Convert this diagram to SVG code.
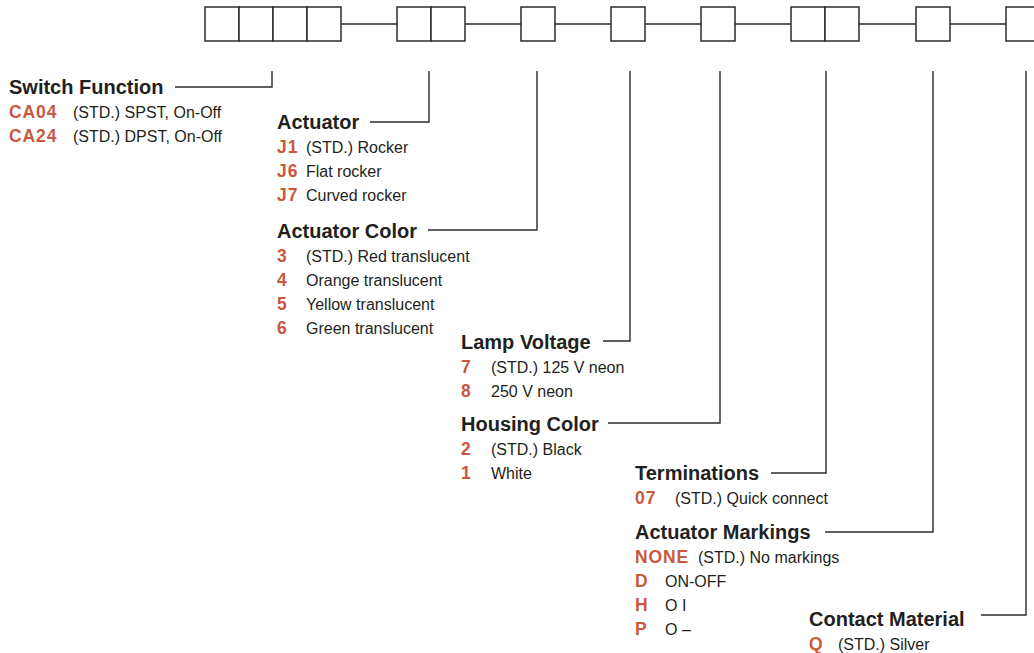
<svg xmlns="http://www.w3.org/2000/svg" width="1034" height="653" viewBox="0 0 1034 653">
<style>
.box{fill:#fff;stroke:#2b2b2b;stroke-width:1.5}
.ln{fill:none;stroke:#2b2b2b;stroke-width:1.4}
.h{font-family:"Liberation Sans",Arial,sans-serif;font-weight:bold;font-size:20px;fill:#231f20}
.c{font-family:"Liberation Sans",Arial,sans-serif;font-weight:bold;font-size:17.5px;letter-spacing:0.9px;fill:#c9583f}
.t{font-family:"Liberation Sans",Arial,sans-serif;font-size:16px;fill:#231f20}
</style>
<rect width="1034" height="653" fill="#fff"/>
<g id="connectors">
<path class="ln" d="M341 24H397M465 24H521M555 24H611M645 24H701M735 24H791M859 24H916M950 24H1006"/>
<path class="ln" d="M272 71V87H175"/>
<path class="ln" d="M429 71V122H370"/>
<path class="ln" d="M537 71V230H428"/>
<path class="ln" d="M630 71V341H603"/>
<path class="ln" d="M720 71V423H608"/>
<path class="ln" d="M826 71V473H771"/>
<path class="ln" d="M933 71V532H825"/>
<path class="ln" d="M1026 71V615H981"/>
</g>
<g id="code-boxes">
<rect class="box" x="205" y="7" width="34" height="34"/>
<rect class="box" x="239" y="7" width="34" height="34"/>
<rect class="box" x="273" y="7" width="34" height="34"/>
<rect class="box" x="307" y="7" width="34" height="34"/>
<rect class="box" x="397" y="7" width="34" height="34"/>
<rect class="box" x="431" y="7" width="34" height="34"/>
<rect class="box" x="521" y="7" width="34" height="34"/>
<rect class="box" x="611" y="7" width="34" height="34"/>
<rect class="box" x="701" y="7" width="34" height="34"/>
<rect class="box" x="791" y="7" width="34" height="34"/>
<rect class="box" x="825" y="7" width="34" height="34"/>
<rect class="box" x="916" y="7" width="34" height="34"/>
<rect class="box" x="1006" y="7" width="34" height="34"/>
</g>
<g id="switch-function">
<text class="h" x="9" y="94">Switch Function</text>
<text class="c" x="9" y="118">CA04</text><text class="t" x="73" y="118">(STD.) SPST, On-Off</text>
<text class="c" x="9" y="142">CA24</text><text class="t" x="73" y="142">(STD.) DPST, On-Off</text>
</g>
<g id="actuator">
<text class="h" x="277" y="129">Actuator</text>
<text class="c" x="277" y="153">J1</text><text class="t" x="306" y="153">(STD.) Rocker</text>
<text class="c" x="277" y="177">J6</text><text class="t" x="306" y="177">Flat rocker</text>
<text class="c" x="277" y="201">J7</text><text class="t" x="306" y="201">Curved rocker</text>
</g>
<g id="actuator-color">
<text class="h" x="277" y="238">Actuator Color</text>
<text class="c" x="277" y="262">3</text><text class="t" x="306" y="262">(STD.) Red translucent</text>
<text class="c" x="277" y="286">4</text><text class="t" x="306" y="286">Orange translucent</text>
<text class="c" x="277" y="310">5</text><text class="t" x="306" y="310">Yellow translucent</text>
<text class="c" x="277" y="334">6</text><text class="t" x="306" y="334">Green translucent</text>
</g>
<g id="lamp-voltage">
<text class="h" x="461" y="349">Lamp Voltage</text>
<text class="c" x="461" y="373">7</text><text class="t" x="491" y="373">(STD.) 125 V neon</text>
<text class="c" x="461" y="397">8</text><text class="t" x="491" y="397">250 V neon</text>
</g>
<g id="housing-color">
<text class="h" x="461" y="431">Housing Color</text>
<text class="c" x="461" y="455">2</text><text class="t" x="491" y="455">(STD.) Black</text>
<text class="c" x="461" y="479">1</text><text class="t" x="491" y="479">White</text>
</g>
<g id="terminations">
<text class="h" x="635" y="480">Terminations</text>
<text class="c" x="635" y="504">07</text><text class="t" x="675" y="504">(STD.) Quick connect</text>
</g>
<g id="actuator-markings">
<text class="h" x="635" y="539">Actuator Markings</text>
<text class="c" x="635" y="563">NONE</text><text class="t" x="698" y="563">(STD.) No markings</text>
<text class="c" x="635" y="587">D</text><text class="t" x="665" y="587">ON-OFF</text>
<text class="c" x="635" y="611">H</text><text class="t" x="665" y="611">O I</text>
<text class="c" x="635" y="635">P</text><text class="t" x="665" y="635">O –</text>
</g>
<g id="contact-material">
<text class="h" x="809" y="626">Contact Material</text>
<text class="c" x="809" y="650">Q</text><text class="t" x="838" y="650">(STD.) Silver</text>
</g>
</svg>
